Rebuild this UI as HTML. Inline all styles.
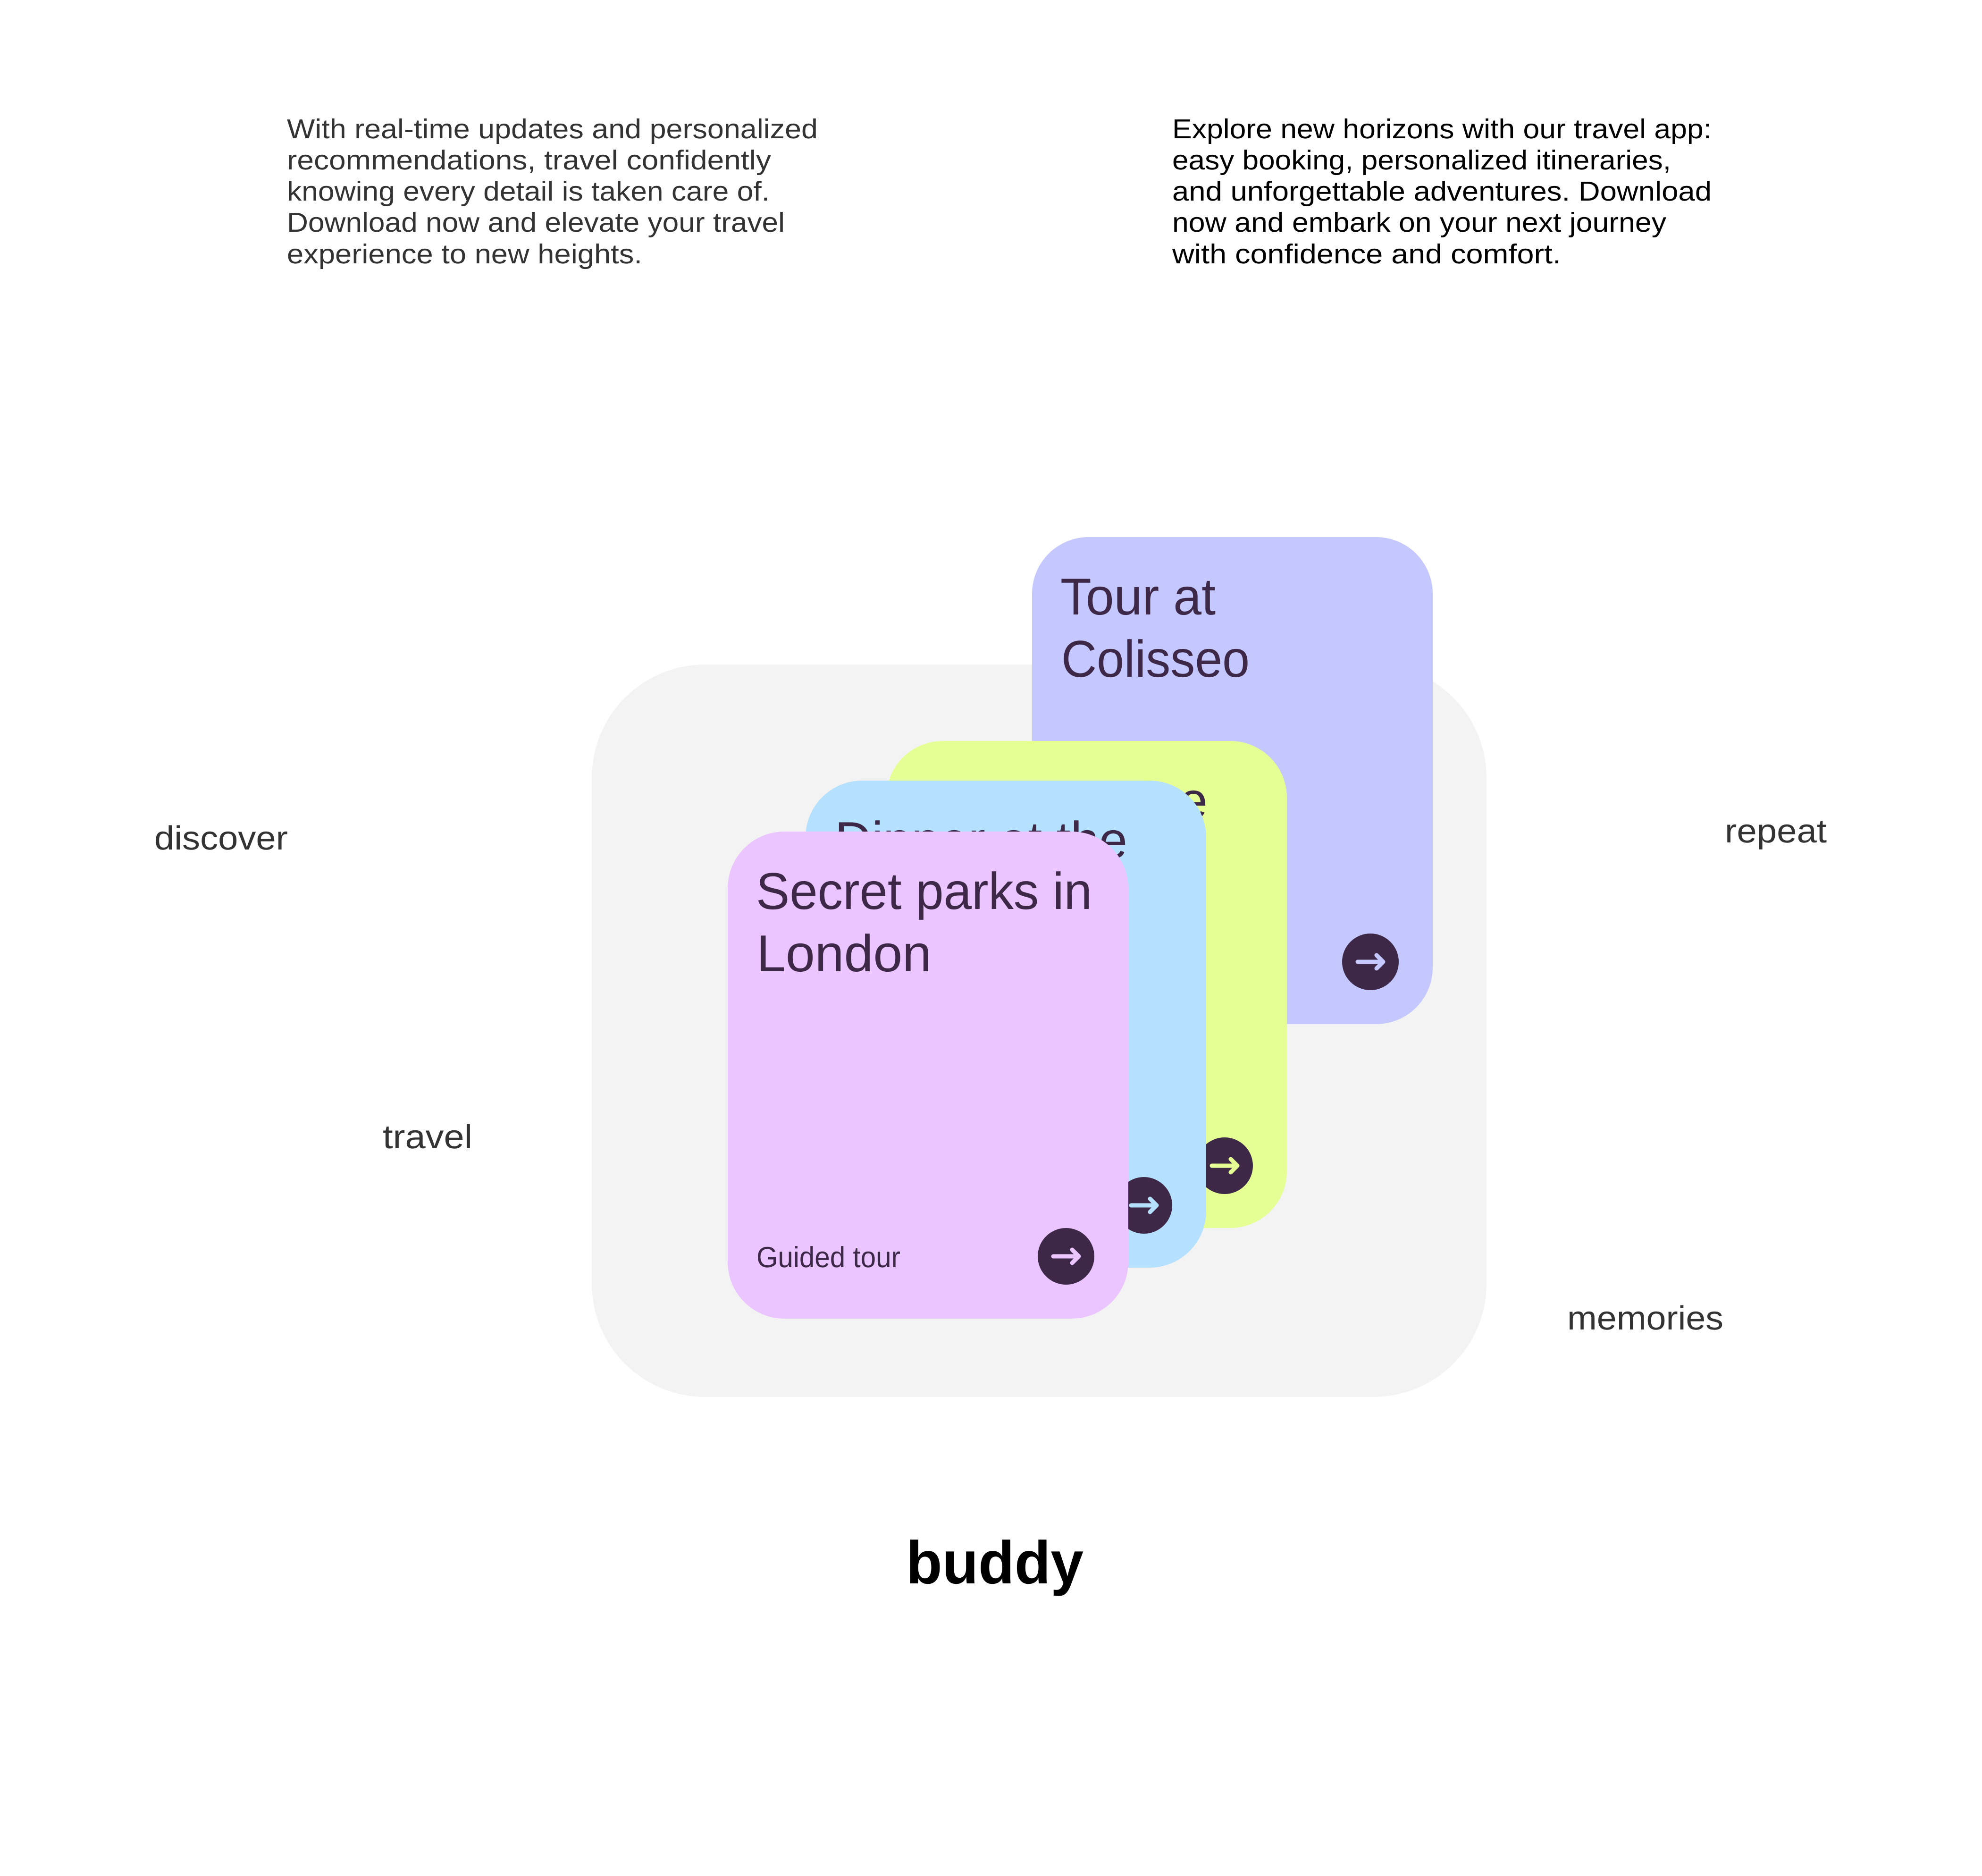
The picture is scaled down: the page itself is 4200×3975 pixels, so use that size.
<!DOCTYPE html>
<html lang="en">
<head>
<meta charset="utf-8">
<title>buddy</title>
<style>
html,body{margin:0;padding:0;background:#fff;}
body{width:4200px;height:3975px;overflow:hidden;}
svg{display:block;}
text{font-family:"Liberation Sans",sans-serif;text-rendering:geometricPrecision;}
.p1{font-size:58px;fill:#333;}
.p2{font-size:58px;fill:#000;}
.lb{font-size:71px;fill:#333;}
.t{font-size:110px;fill:#3d2848;}
.a{fill:none;stroke-width:9;stroke-linecap:round;stroke-linejoin:round;}
</style>
</head>
<body>
<svg width="4200" height="3975" viewBox="0 0 4200 3975" xmlns="http://www.w3.org/2000/svg">
<rect width="4200" height="3975" fill="#fff"/>

<g class="p1">
<text x="608" y="293" textLength="1125" lengthAdjust="spacingAndGlyphs">With real-time updates and personalized</text>
<text x="608" y="359" textLength="1026" lengthAdjust="spacingAndGlyphs">recommendations, travel confidently</text>
<text x="608" y="425" textLength="1023" lengthAdjust="spacingAndGlyphs">knowing every detail is taken care of.</text>
<text x="608" y="491" textLength="1055" lengthAdjust="spacingAndGlyphs">Download now and elevate your travel</text>
<text x="608" y="558" textLength="753" lengthAdjust="spacingAndGlyphs">experience to new heights.</text>
</g>
<g class="p2">
<text x="2484" y="293" textLength="1143" lengthAdjust="spacingAndGlyphs">Explore new horizons with our travel app:</text>
<text x="2484" y="359" textLength="1057" lengthAdjust="spacingAndGlyphs">easy booking, personalized itineraries,</text>
<text x="2484" y="425" textLength="1143" lengthAdjust="spacingAndGlyphs">and unforgettable adventures. Download</text>
<text x="2484" y="491" textLength="1047" lengthAdjust="spacingAndGlyphs">now and embark on your next journey</text>
<text x="2484" y="558" textLength="824" lengthAdjust="spacingAndGlyphs">with confidence and comfort.</text>
</g>

<g class="lb">
<text x="327" y="1800" textLength="283" lengthAdjust="spacingAndGlyphs">discover</text>
<text x="811" y="2433" textLength="190" lengthAdjust="spacingAndGlyphs">travel</text>
<text x="3655" y="1785" textLength="216" lengthAdjust="spacingAndGlyphs">repeat</text>
<text x="3321" y="2817" textLength="331" lengthAdjust="spacingAndGlyphs">memories</text>
</g>

<rect x="1254" y="1408" width="1896" height="1552" rx="240" ry="240" fill="#f3f3f3"/>

<rect x="2187" y="1138" width="849" height="1032" rx="120" ry="120" fill="#c5c7ff"/>
<text class="t" x="2247" y="1302" textLength="329" lengthAdjust="spacingAndGlyphs">Tour at</text>
<text class="t" x="2249" y="1434" textLength="399" lengthAdjust="spacingAndGlyphs">Colisseo</text>
<circle cx="2904" cy="2038" r="60" fill="#3d2848"/>
<path class="a" stroke="#c5c7ff" d="M2877 2038H2931M2917 2024L2931 2038L2917 2052"/>

<rect x="1878" y="1570" width="849" height="1032" rx="120" ry="120" fill="#e6ff94"/>
<text class="t" x="1940" y="1734" textLength="619" lengthAdjust="spacingAndGlyphs">Lunch cruise</text>
<circle cx="2595" cy="2470" r="60" fill="#3d2848"/>
<path class="a" stroke="#e6ff94" d="M2568 2470H2622M2608 2456L2622 2470L2608 2484"/>

<rect x="1707" y="1654" width="849" height="1032" rx="120" ry="120" fill="#b5e1ff"/>
<text class="t" x="1769" y="1818" textLength="620" lengthAdjust="spacingAndGlyphs">Dinner at the</text>
<circle cx="2424" cy="2554" r="60" fill="#3d2848"/>
<path class="a" stroke="#b5e1ff" d="M2397 2554H2451M2437 2540L2451 2554L2437 2568"/>

<rect x="1542" y="1762" width="849" height="1032" rx="120" ry="120" fill="#ebc5ff"/>
<text class="t" x="1602" y="1926" textLength="712" lengthAdjust="spacingAndGlyphs">Secret parks in</text>
<text class="t" x="1603" y="2058" textLength="371" lengthAdjust="spacingAndGlyphs">London</text>
<text x="1603" y="2685" font-size="62" fill="#3d2848" textLength="305" lengthAdjust="spacingAndGlyphs">Guided tour</text>
<circle cx="2259" cy="2662" r="60" fill="#3d2848"/>
<path class="a" stroke="#ebc5ff" d="M2232 2662H2286M2272 2648L2286 2662L2272 2676"/>

<text x="1920" y="3355" font-size="128" font-weight="700" fill="#000" textLength="376" lengthAdjust="spacingAndGlyphs">buddy</text>
</svg>
</body>
</html>
